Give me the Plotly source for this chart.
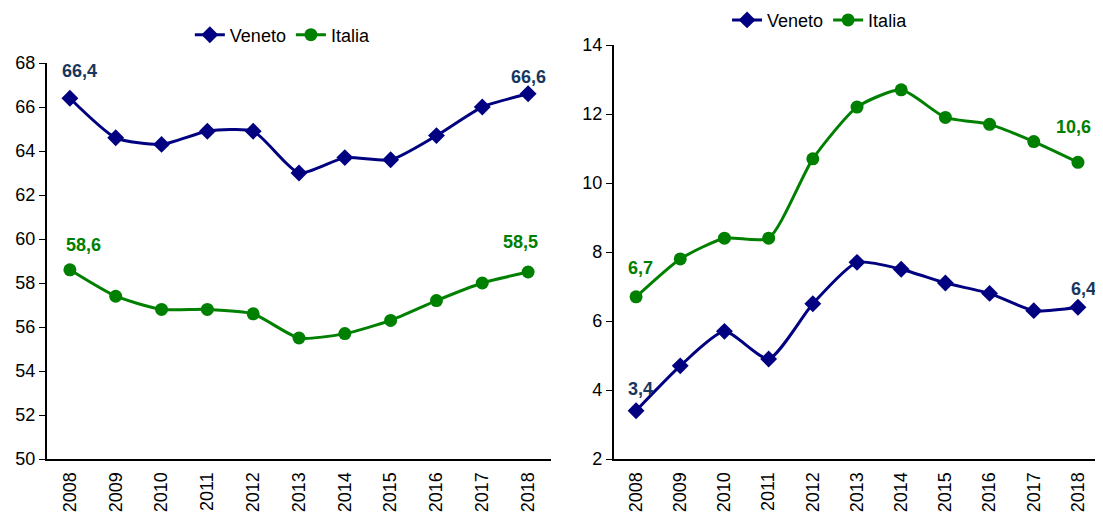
import plotly.graph_objects as go

years = ["2008", "2009", "2010", "2011", "2012", "2013", "2014", "2015", "2016", "2017", "2018"]
occ_veneto = [66.4, 64.6, 64.3, 64.9, 64.9, 63.0, 63.7, 63.6, 64.7, 66.0, 66.6]
occ_italia = [58.6, 57.4, 56.8, 56.8, 56.6, 55.5, 55.7, 56.3, 57.2, 58.0, 58.5]
dis_veneto = [3.4, 4.7, 5.7, 4.9, 6.5, 7.7, 7.5, 7.1, 6.8, 6.3, 6.4]
dis_italia = [6.7, 7.8, 8.4, 8.4, 10.7, 12.2, 12.7, 11.9, 11.7, 11.2, 10.6]

NAVY = "#000080"
GREEN = "#008000"
LBL_NAVY = "#17375E"
FONT = "Liberation Sans, Arial, sans-serif"

fig = go.Figure()

def add(x, y, name, color, symbol, msize, xa, ya, leg):
    fig.add_trace(go.Scatter(
        x=x, y=y, name=name, mode="lines+markers",
        line=dict(color=color, width=3, shape="spline", smoothing=0.6),
        marker=dict(symbol=symbol, size=msize, color=color),
        xaxis=xa, yaxis=ya, legend=leg))

add(years, occ_veneto, "Veneto", NAVY, "diamond", 13, "x", "y", "legend")
add(years, occ_italia, "Italia", GREEN, "circle", 13, "x", "y", "legend")
add(years, dis_veneto, "Veneto", NAVY, "diamond", 13, "x2", "y2", "legend2")
add(years, dis_italia, "Italia", GREEN, "circle", 13, "x2", "y2", "legend2")

def fmt(v):
    return f"{v:.1f}".replace(".", ",")

def label(idx, series, color, xa, ya, yshift, xshift=0):
    y = series[idx]
    fig.add_annotation(x=idx, y=y, xref=xa, yref=ya, text=f"<b>{fmt(y)}</b>",
                       showarrow=False, yshift=yshift, xshift=xshift,
                       font=dict(family=FONT, size=18, color=color))

last = len(years) - 1
label(0, occ_veneto, LBL_NAVY, "x", "y", 27, 10)
label(last, occ_veneto, LBL_NAVY, "x", "y", 17, 0)
label(0, occ_italia, GREEN, "x", "y", 25, 14)
label(last, occ_italia, GREEN, "x", "y", 30, -8)
label(0, dis_veneto, LBL_NAVY, "x2", "y2", 22, 4)
label(last, dis_veneto, LBL_NAVY, "x2", "y2", 18, 6)
label(0, dis_italia, GREEN, "x2", "y2", 29, 4)
label(last, dis_italia, GREEN, "x2", "y2", 35, -4)

xcommon = dict(type="category", showline=True, linecolor="black", linewidth=2,
               showgrid=False, ticks="", tickangle=-90, zeroline=False, automargin=False,
               ticklabelstandoff=4,
               tickfont=dict(family=FONT, size=18, color="black"), range=[-0.5, 10.5])
ycommon = dict(showline=True, linecolor="black", linewidth=2, showgrid=False,
               ticks="outside", ticklen=6, tickcolor="black", tickwidth=1, zeroline=False,
               automargin=False, tickfont=dict(family=FONT, size=18, color="black"))

# page has an 8px body margin, so the figure is sized to the visible area
W, H = 1095, 509
fig.update_layout(
    width=W, height=H,
    margin=dict(l=0, r=0, t=0, b=0, autoexpand=False),
    paper_bgcolor="white", plot_bgcolor="white",
    font=dict(family=FONT, size=17, color="black"),
    xaxis=dict(domain=[0.0356, 0.4959], anchor="y", **xcommon),
    yaxis=dict(domain=[0.1139, 0.8919], anchor="x", range=[50, 68], dtick=2, **ycommon),
    xaxis2=dict(domain=[0.5534, 0.9973], anchor="y2", **xcommon),
    yaxis2=dict(domain=[0.1139, 0.9273], anchor="x2", range=[2, 14], dtick=2, **ycommon),
    legend=dict(orientation="h", x=0.251, y=0.947, xanchor="center", yanchor="middle",
                font=dict(family=FONT, size=18), bgcolor="rgba(0,0,0,0)", itemwidth=30),
    legend2=dict(orientation="h", x=0.7416, y=0.976, xanchor="center", yanchor="middle",
                 font=dict(family=FONT, size=18), bgcolor="rgba(0,0,0,0)", itemwidth=30),
    showlegend=True,
)

fig.write_html("out.html")
